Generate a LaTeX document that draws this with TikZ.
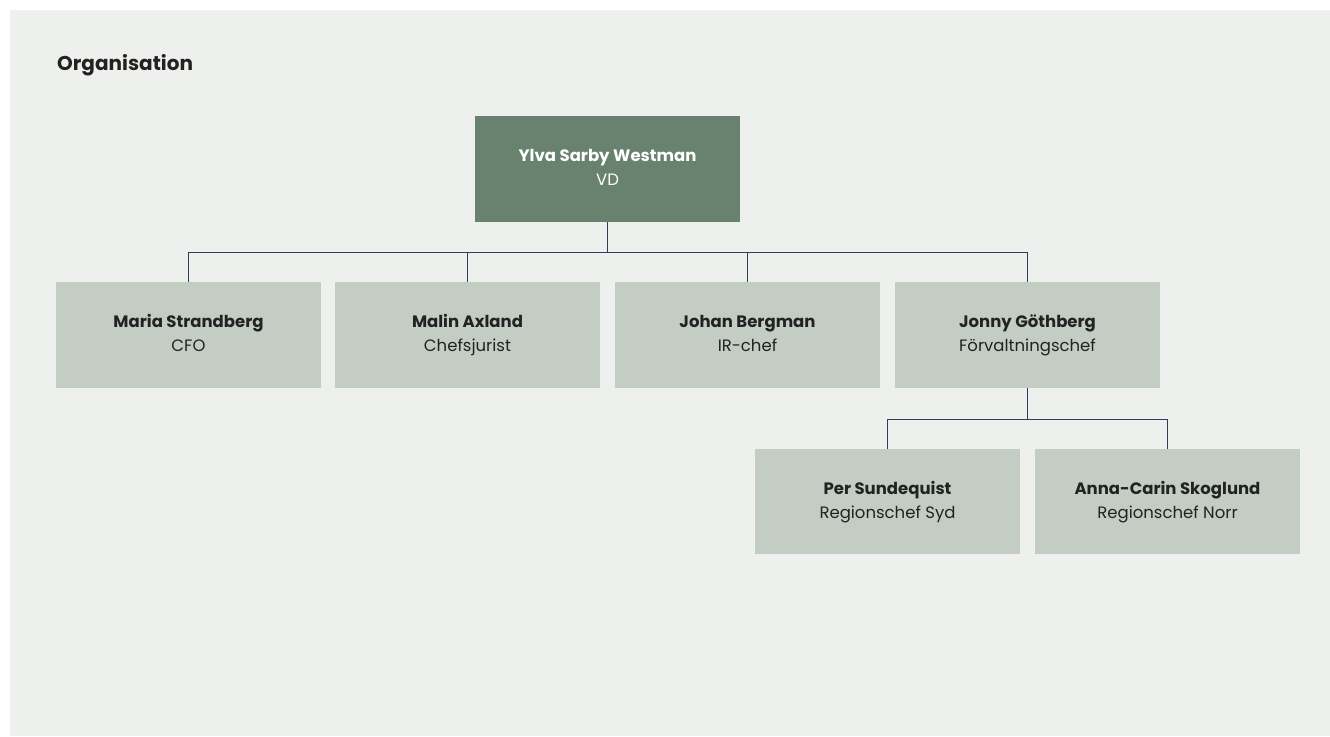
\documentclass[tikz,border=0pt]{standalone}
\usepackage{fontspec}
\setmainfont{Poppins}
\usepackage{xcolor}
\usetikzlibrary{positioning}

\definecolor{pagebg}{HTML}{EEF0ED}
\definecolor{vdgreen}{HTML}{68826F}
\definecolor{staffgreen}{HTML}{C3CDC4}
\definecolor{linenavy}{HTML}{2E3D5A}
\definecolor{inkdark}{HTML}{222222}

\begin{document}
\begin{tikzpicture}[
  x=1pt, y=1pt,
  font=\fontsize{16.5}{24}\selectfont,
  headbox/.style={
    align=center, inner sep=0pt, minimum width=265pt, minimum height=106pt,
    fill=vdgreen, text=white
  },
  staff/.style={
    align=center, inner sep=0pt, minimum width=265pt, minimum height=106pt,
    fill=staffgreen, text=inkdark
  },
  conn/.style={draw=linenavy, line width=1.3pt}
]
  \useasboundingbox (0,0) rectangle (1330,-736);
  \fill[pagebg] (10,-10) rectangle (1330,-736);

  \node[anchor=base west, inner sep=0pt, text=inkdark,
    font=\fontsize{20}{24}\selectfont\bfseries] (title) at (57,-70) {Organisation};

  \node[headbox] (vd) at (607.5,-169) {\strut\textbf{Ylva Sarby Westman}\\\strut VD};

  \node[staff] (cfo) at (188.5,-335) {\strut\textbf{Maria Strandberg}\\\strut CFO};
  \node[staff] (jur) at (467.5,-335) {\strut\textbf{Malin Axland}\\\strut Chefsjurist};
  \node[staff] (ir) at (747.5,-335) {\strut\textbf{Johan Bergman}\\\strut IR-chef};
  \node[staff] (fvc) at (1027.5,-335) {\strut\textbf{Jonny Göthberg}\\\strut Förvaltningschef};

  \draw[conn] (vd.south) -- ++(0,-30) -| (cfo.north);
  \draw[conn] (vd.south) -- ++(0,-30) -| (jur.north);
  \draw[conn] (vd.south) -- ++(0,-30) -| (ir.north);
  \draw[conn] (vd.south) -- ++(0,-30) -| (fvc.north);

  \node[staff, minimum height=105pt] (syd) at (887.5,-501.5) {\strut\textbf{Per Sundequist}\\\strut Regionschef Syd};
  \node[staff, minimum height=105pt] (norr) at (1167.5,-501.5) {\strut\textbf{Anna-Carin Skoglund}\\\strut Regionschef Norr};

  \draw[conn] (fvc.south) -- ++(0,-31) -| (syd.north);
  \draw[conn] (fvc.south) -- ++(0,-31) -| (norr.north);
\end{tikzpicture}
\end{document}
